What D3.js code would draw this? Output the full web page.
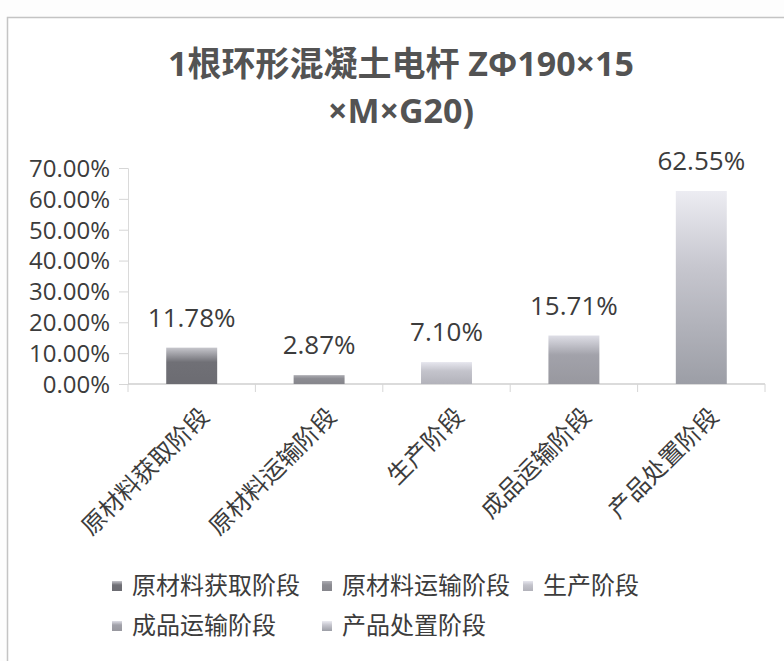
<!DOCTYPE html>
<html>
<head>
<meta charset="utf-8">
<script src="https://cdn.jsdelivr.net/npm/d3@7"></script>
<style>
  html, body { margin: 0; padding: 0; background: #fdfdfd; }
  text { font-family: "Open Sans", "Noto Sans CJK SC", sans-serif; }
</style>
</head>
<body>
<div id="chart"></div>
<script>
// chart data
const titleLines = ['1根环形混凝土电杆 ZΦ190×15', '×M×G20)'];
const categories = ['原材料获取阶段', '原材料运输阶段', '生产阶段', '成品运输阶段', '产品处置阶段'];
const values = [0.1178, 0.0287, 0.0710, 0.1571, 0.6255];
const yTicks = [0, 0.1, 0.2, 0.3, 0.4, 0.5, 0.6, 0.7];

// greyscale gradient stops per series (top, middle, bottom)
const palette = [
    ['#c6c6cc', '#707076', '#6c6c72'],
    ['#acacb2', '#8c8c92', '#86868c'],
    ['#e6e6ee', '#c4c4cc', '#b2b2ba'],
    ['#dedee6', '#a2a2aa', '#98989f'],
    ['#ececf2', '#c6c6ce', '#9c9ea6']
];

const width = 784;
const height = 661;
const plot = { left: 128, right: 765, top: 168, bottom: 384 };

const svg = d3.select('#chart')
    .append('svg')
    .attr('width', width)
    .attr('height', height);

// gradients
const defs = svg.append('defs');
palette.forEach((p, i) => {
    const grad = defs.append('linearGradient')
        .attr('id', 'grad' + i)
        .attr('x1', 0).attr('y1', 0)
        .attr('x2', 0).attr('y2', 1);
    grad.append('stop').attr('offset', '0%').attr('stop-color', p[0]);
    grad.append('stop').attr('offset', '40%').attr('stop-color', p[1]);
    grad.append('stop').attr('offset', '100%').attr('stop-color', p[2]);
});

// chart area border (runs off the right and bottom edges)
svg.append('rect')
    .attr('x', 7.5)
    .attr('y', 17.5)
    .attr('width', 820)
    .attr('height', 700)
    .attr('fill', '#ffffff')
    .attr('stroke', '#c4c4c4')
    .attr('stroke-width', 1.5);

// title
svg.append('g')
    .selectAll('text')
    .data(titleLines)
    .enter().append('text')
    .attr('x', 401)
    .attr('y', (d, i) => 76 + i * 47)
    .attr('text-anchor', 'middle')
    .style('font-size', '34px')
    .style('font-weight', 'bold')
    .style('fill', '#535353')
    .text(d => d);

// scales
const xScale = d3.scaleBand()
    .domain(categories)
    .range([plot.left, plot.right])
    .paddingInner(0.6)
    .paddingOuter(0.3);

const yScale = d3.scaleLinear()
    .domain([0, 0.7])
    .range([plot.bottom, plot.top]);

// y axis
const yAxis = d3.axisLeft(yScale)
    .tickValues(yTicks)
    .tickSize(9)
    .tickPadding(9)
    .tickFormat(d3.format('.2%'));

const yg = svg.append('g')
    .attr('transform', `translate(${plot.left},0)`)
    .call(yAxis);
yg.select('.domain').attr('stroke', '#dadada');
yg.selectAll('.tick line').attr('stroke', '#d6d6d6');
yg.selectAll('.tick text')
    .style('font-size', '24px')
    .style('fill', '#3c3c3c')
    .attr('dy', '0.35em');

// x axis baseline and boundary ticks
svg.append('line')
    .attr('x1', plot.left).attr('x2', plot.right)
    .attr('y1', plot.bottom).attr('y2', plot.bottom)
    .attr('stroke', '#cfcfcf')
    .attr('stroke-width', 1.5);

const step = xScale.step();
const boundaries = categories.map(c => xScale(c) - (step - xScale.bandwidth()) / 2)
    .concat([plot.right]);
svg.append('g')
    .selectAll('line')
    .data(boundaries)
    .enter().append('line')
    .attr('x1', d => d).attr('x2', d => d)
    .attr('y1', plot.bottom).attr('y2', plot.bottom + 8)
    .attr('stroke', '#d6d6d6');

// category labels rotated
svg.append('g')
    .selectAll('text')
    .data(categories)
    .enter().append('text')
    .attr('transform', d => `translate(${xScale(d) + xScale.bandwidth() / 2 + 13},${plot.bottom + 28}) rotate(-45)`)
    .attr('text-anchor', 'end')
    .attr('dy', '0.35em')
    .style('font-size', '24px')
    .style('fill', '#3c3c3c')
    .text(d => d);

// bars
svg.append('g')
    .selectAll('rect')
    .data(values)
    .enter().append('rect')
    .attr('x', (d, i) => xScale(categories[i]))
    .attr('y', d => yScale(d))
    .attr('width', xScale.bandwidth())
    .attr('height', d => plot.bottom - yScale(d))
    .attr('fill', (d, i) => `url(#grad${i})`);

// data labels
svg.append('g')
    .selectAll('text')
    .data(values)
    .enter().append('text')
    .attr('x', (d, i) => xScale(categories[i]) + xScale.bandwidth() / 2)
    .attr('y', d => yScale(d) - 21)
    .attr('text-anchor', 'middle')
    .style('font-size', '26px')
    .style('fill', '#3c3c3c')
    .text(d => d3.format('.2%')(d));

// legend
const legendCols = [112, 322, 523];
const legendRows = [586, 626];
const legend = svg.append('g').attr('class', 'legend');
categories.forEach((c, i) => {
    const col = i % 3;
    const row = Math.floor(i / 3);
    const lx = legendCols[col];
    const ly = legendRows[row];
    legend.append('rect')
        .attr('x', lx)
        .attr('y', ly - 5)
        .attr('width', 10)
        .attr('height', 10)
        .attr('fill', `url(#grad${i})`);
    legend.append('text')
        .attr('x', lx + 20)
        .attr('y', ly)
        .attr('dy', '0.35em')
        .style('font-size', '24px')
        .style('fill', '#3c3c3c')
        .text(c);
});
</script>
</body>
</html>
